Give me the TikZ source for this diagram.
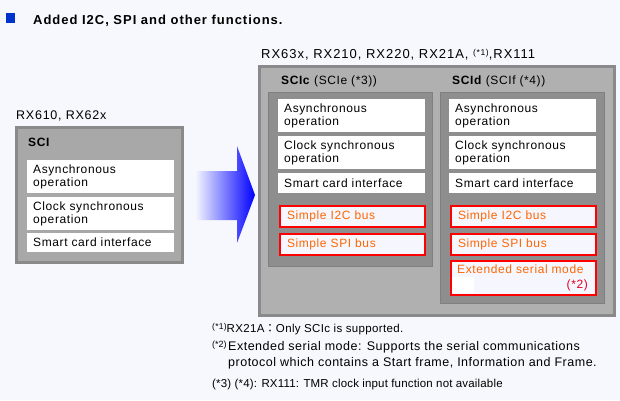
\documentclass[tikz,border=0pt]{standalone}
\usepackage{fontspec}
\setmainfont{Liberation Sans}
\newfontfamily\cjkfont{Noto Sans CJK JP}
\definecolor{bg}{RGB}{247,248,254}
\definecolor{rboxbg}{RGB}{245,246,254}
\definecolor{titleblue}{RGB}{0,51,204}
\definecolor{outerfill}{RGB}{176,176,176}
\definecolor{outerdraw}{RGB}{138,138,138}
\definecolor{leftfill}{RGB}{168,168,168}
\definecolor{panelfill}{RGB}{142,142,142}
\definecolor{paneldraw}{RGB}{128,128,128}
\definecolor{orangetxt}{RGB}{255,102,0}
\definecolor{redtxt}{RGB}{228,0,32}
\newcommand{\supnote}[1]{\raisebox{3pt}{\fontsize{8.5}{9}\selectfont #1}}
\begin{document}
\begin{tikzpicture}[x=1pt,y=-1pt,
  txt/.style={font=\fontsize{12}{13.5}\selectfont\addfontfeatures{LetterSpace=5}, inner sep=0pt},
  wbox/.style={txt, anchor=north west, fill=white, inner xsep=6pt, text width=135pt, align=left, minimum height=#1},
  rbox/.style={txt, anchor=north west, fill=rboxbg, draw=red, line width=2pt, inner xsep=7pt, text width=131pt, align=left, minimum height=#1, text=orangetxt},
  lbl/.style={inner sep=0pt, anchor=base west},
  hdr/.style={font=\fontsize{12}{14}\selectfont\addfontfeatures{LetterSpace=5}, inner sep=0pt, anchor=base west},
  fnote/.style={inner sep=0pt, anchor=base west},
  panel/.style={fill=panelfill, draw=paneldraw, line width=1pt}
]
\fill[bg] (0,0) rectangle (620,400);
\useasboundingbox (0,0) rectangle (620,400);

% title
\fill[titleblue] (6,13) rectangle (15,23);
\node[font=\fontsize{13}{15}\bfseries\addfontfeatures{LetterSpace=7.5}, inner sep=0pt, anchor=base west] (title) at (33,24) {Added I2C, SPI and other functions.};

% left box
\node[lbl, font=\fontsize{12.5}{14}\selectfont\addfontfeatures{LetterSpace=6}] (lleft) at (16,119.5) {RX610, RX62x};
\draw[fill=leftfill, draw=outerdraw, line width=3pt] (16.5,127.5) rectangle (182.5,262.5);
\node[hdr, font=\fontsize{12}{14}\bfseries\addfontfeatures{LetterSpace=5}] (sci) at (28,146.5) {SCI};
\node[wbox=33pt] (l1) at (27,160) {Asynchronous\\operation};
\node[wbox=33pt] (l2) at (27,197) {Clock synchronous\\operation};
\node[wbox=19pt] (l3) at (27,233) {Smart card interface};

% arrow
\shade[left color=bg, right color=blue] (195,171) -- (237,171) -- (237,146) -- (255,195) -- (237,243) -- (237,220) -- (195,220) -- cycle;

% right big box
\node[lbl, font=\fontsize{13}{15}\selectfont\addfontfeatures{LetterSpace=7.5}] (lright) at (261,58) {RX63x, RX210, RX220, RX21A, \supnote{(*1)},RX111};
\draw[fill=outerfill, draw=outerdraw, line width=3pt] (259.5,66.5) rectangle (614.5,315.5);

% panel c
\draw[panel] (268.5,92.5) rectangle (432.5,266.5);
\node[hdr] (hc) at (281,84.5) {\textbf{SCIc} (SCIe (*3))};
\node[wbox=33pt] (c1) at (278,99) {Asynchronous\\operation};
\node[wbox=33pt] (c2) at (278,136) {Clock synchronous\\operation};
\node[wbox=20pt] (c3) at (278,173) {Smart card interface};
\node[rbox=21pt] (c4) at (279,205) {Simple I2C bus};
\node[rbox=21pt] (c5) at (279,233) {Simple SPI bus};

% panel d
\draw[panel] (440.5,92.5) rectangle (604.5,303.5);
\node[hdr] (hd) at (452,84.5) {\textbf{SCId} (SCIf (*4))};
\node[wbox=33pt] (d1) at (449,99) {Asynchronous\\operation};
\node[wbox=33pt] (d2) at (449,136) {Clock synchronous\\operation};
\node[wbox=20pt] (d3) at (449,173) {Smart card interface};
\node[rbox=21pt] (d4) at (450,205) {Simple I2C bus};
\node[rbox=21pt] (d5) at (450,233) {Simple SPI bus};
\node[rbox=34pt, anchor=north west] (d6) at (450,260) {};
\fill[white] (452,277) rectangle (474,293);
\node[txt, anchor=base west, text=orangetxt] (d6a) at (457,273) {Extended serial mode};
\node[txt, anchor=base east, text=redtxt] (d6b) at (588,288) {(*2)};

% footnotes
\node[fnote, font=\fontsize{11.5}{13}\selectfont\addfontfeatures{LetterSpace=3}] (f1) at (212,332) {\supnote{(*1)}RX21A{\cjkfont ：}Only SCIc is supported.};
\node[fnote, font=\fontsize{9}{10}\selectfont] (f2s) at (212,347) {(*2)};
\node[fnote, font=\fontsize{12.5}{14}\selectfont\addfontfeatures{LetterSpace=4}] (f2) at (228,350) {Extended serial mode: Supports the serial communications};
\node[fnote, font=\fontsize{12.5}{14}\selectfont\addfontfeatures{LetterSpace=4}] (f3) at (228,366) {protocol which contains a Start frame, Information and Frame.};
\node[fnote, font=\fontsize{11.5}{13}\selectfont\addfontfeatures{LetterSpace=1.5}] (f4) at (212,387) {(*3) (*4): RX111: TMR clock input function not available};
\end{tikzpicture}
\end{document}
